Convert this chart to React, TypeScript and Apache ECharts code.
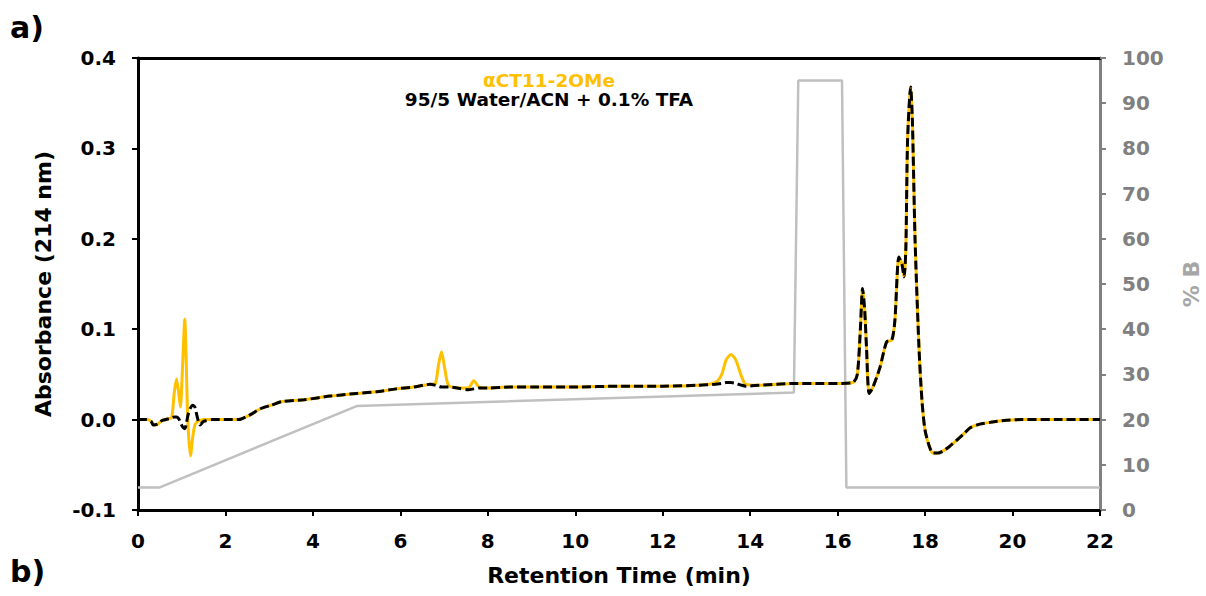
import React, { useEffect, useRef } from "react";
import * as echarts from "echarts";

const timeMin = [
  0, 0.2, 0.3, 0.35, 0.45, 0.55, 0.7, 0.77, 0.83, 0.88, 0.93, 0.97, 1.02, 1.07, 1.1, 1.13, 1.16, 1.2, 1.25, 1.3,
  1.36, 1.42, 1.5, 1.7, 2.0, 2.3, 2.55, 2.8, 3.05, 3.3, 3.8, 4.4, 5.0, 5.5, 5.9, 6.3, 6.68, 6.8, 6.87, 6.94,
  7.01, 7.1, 7.3, 7.55, 7.68, 7.8, 8.0, 8.5, 9.0, 10, 11, 12, 12.8, 13.2, 13.35, 13.45, 13.56, 13.67, 13.8, 13.9,
  14.2, 14.6, 15, 15.5, 16.0, 16.35, 16.45, 16.52, 16.57, 16.62, 16.66, 16.72, 16.8, 16.97, 17.12, 17.24, 17.31, 17.4, 17.47, 17.52,
  17.56, 17.6, 17.67, 17.71, 17.77, 17.86, 17.93, 18.0, 18.1, 18.18, 18.3, 18.4, 18.55, 18.72, 18.9, 19.03, 19.25, 19.5, 19.8, 20.2,
  21, 22,
];

const blankAbs = [
  0.0, 0.0, -0.002, -0.006, -0.005, -0.001, 0.001, 0.002, 0.003, 0.003, 0.001, -0.003, -0.008, -0.01, -0.006, 0.002, 0.008, 0.013, 0.016, 0.014,
  0.002, -0.006, -0.002, 0.0, 0.0, 0.0, 0.005, 0.012, 0.016, 0.02, 0.022, 0.026, 0.029, 0.031, 0.034, 0.036, 0.039, 0.038, 0.037, 0.036,
  0.036, 0.036, 0.035, 0.033, 0.034, 0.035, 0.035, 0.036, 0.036, 0.036, 0.037, 0.037, 0.038, 0.039, 0.04, 0.041, 0.041, 0.04, 0.038, 0.037,
  0.038, 0.039, 0.04, 0.04, 0.04, 0.041, 0.05, 0.1, 0.145, 0.12, 0.08, 0.029, 0.035, 0.058, 0.086, 0.088, 0.11, 0.18, 0.172, 0.158,
  0.19, 0.31, 0.368, 0.33, 0.2, 0.08, 0.02, -0.012, -0.03, -0.037, -0.037, -0.035, -0.03, -0.023, -0.015, -0.009, -0.005, -0.003, -0.001, 0.0,
  0.0, 0.0,
];

const sampleAbs = [
  0.0, 0.0, -0.002, -0.006, -0.005, -0.001, 0.001, 0.002, 0.03, 0.045, 0.03, 0.014, 0.06, 0.111, 0.07, 0.01, -0.02, -0.04, -0.02, -0.006,
  -0.002, -0.001, 0.0, 0.0, 0.0, 0.0, 0.005, 0.012, 0.016, 0.02, 0.022, 0.026, 0.029, 0.031, 0.034, 0.036, 0.039, 0.04, 0.06, 0.075,
  0.058, 0.038, 0.035, 0.035, 0.043, 0.036, 0.035, 0.036, 0.036, 0.036, 0.037, 0.037, 0.038, 0.041, 0.05, 0.066, 0.072, 0.066, 0.048, 0.039,
  0.038, 0.039, 0.04, 0.04, 0.04, 0.041, 0.05, 0.1, 0.145, 0.12, 0.08, 0.029, 0.035, 0.058, 0.086, 0.088, 0.11, 0.18, 0.172, 0.158,
  0.19, 0.31, 0.368, 0.33, 0.2, 0.08, 0.02, -0.012, -0.03, -0.037, -0.037, -0.035, -0.03, -0.023, -0.015, -0.009, -0.005, -0.003, -0.001, 0.0,
  0.0, 0.0,
];

const gradTime = [0, 0.5, 5.0, 15.0, 15.1, 16.1, 16.2, 22];
const gradB = [5, 5, 23, 26, 95, 95, 5, 5];

const sampleName = "αCT11-2OMe";
const conditionText = "95/5 Water/ACN + 0.1% TFA";

const FONT = "DejaVu Sans";

export default function App() {
  const ref = useRef<HTMLDivElement>(null);
  useEffect(() => {
    if (!ref.current) return;
    const chart = echarts.init(ref.current, undefined, { renderer: "svg" });
    const pair = (xs: number[], ys: number[]) => xs.map((x, i) => [x, ys[i]]);
    chart.setOption({
      animation: false,
      textStyle: { fontFamily: FONT },
      grid: { left: 138, right: 106, top: 58, bottom: 86, containLabel: false, outerBoundsMode: "none" },
      xAxis: [
        {
          type: "value",
          min: 0,
          max: 22,
          interval: 2,
          name: "Retention Time (min)",
          nameLocation: "middle",
          nameGap: 54,
          nameTextStyle: { fontFamily: FONT, fontWeight: "bold", fontSize: 22, color: "#000" },
          axisLine: { onZero: false, lineStyle: { color: "#000", width: 3 } },
          axisTick: { show: true, inside: false, length: 6, lineStyle: { color: "#000", width: 2 } },
          axisLabel: { margin: 21, fontFamily: FONT, fontWeight: "bold", fontSize: 20, color: "#000" },
          splitLine: { show: false },
        },
        {
          type: "value",
          position: "top",
          min: 0,
          max: 22,
          axisLine: { onZero: false, lineStyle: { color: "#000", width: 3 } },
          axisTick: { show: false },
          axisLabel: { show: false },
          splitLine: { show: false },
        },
      ],
      yAxis: [
        {
          type: "value",
          min: -0.1,
          max: 0.4,
          interval: 0.1,
          name: "Absorbance (214 nm)",
          nameLocation: "middle",
          nameRotate: 90,
          nameGap: 84,
          nameTextStyle: { fontFamily: FONT, fontWeight: "bold", fontSize: 22, color: "#000" },
          axisLine: { show: true, onZero: false, lineStyle: { color: "#000", width: 3 } },
          axisTick: { show: true, inside: false, length: 6, lineStyle: { color: "#000", width: 2 } },
          axisLabel: {
            margin: 22,
            fontFamily: FONT,
            fontWeight: "bold",
            fontSize: 20,
            color: "#000",
            formatter: (v: number) => v.toFixed(1),
          },
          splitLine: { show: false },
        },
        {
          type: "value",
          position: "right",
          min: 0,
          max: 100,
          interval: 10,
          name: "% B",
          nameLocation: "middle",
          nameRotate: 90,
          nameGap: 80,
          nameTextStyle: { fontFamily: FONT, fontWeight: "bold", fontSize: 22, color: "#a6a6a6" },
          axisLine: { show: true, onZero: false, lineStyle: { color: "#808080", width: 3 } },
          axisTick: { show: true, inside: false, length: 6, lineStyle: { color: "#808080", width: 2 } },
          axisLabel: { margin: 22, fontFamily: FONT, fontWeight: "bold", fontSize: 20, color: "#808080" },
          splitLine: { show: false },
        },
      ],
      series: [
        {
          type: "line",
          name: "%B",
          yAxisIndex: 1,
          data: pair(gradTime, gradB),
          showSymbol: false,
          lineStyle: { color: "#c0c0c0", width: 2.5 },
          z: 1,
        },
        {
          type: "line",
          name: sampleName,
          data: pair(timeMin, sampleAbs),
          showSymbol: false,
          smooth: 0.25,
          lineStyle: { color: "#FFC000", width: 3 },
          z: 2,
        },
        {
          type: "line",
          name: "blank",
          data: pair(timeMin, blankAbs),
          showSymbol: false,
          smooth: 0.25,
          lineStyle: { color: "#000", width: 3, type: [9, 4] },
          z: 3,
        },
      ],
      graphic: [
        {
          type: "text",
          left: 10,
          top: 12,
          style: { text: "a)", fontFamily: FONT, fontWeight: "bold", fontSize: 30, fill: "#000" },
        },
        {
          type: "text",
          left: 10,
          top: 556,
          style: { text: "b)", fontFamily: FONT, fontWeight: "bold", fontSize: 30, fill: "#000" },
        },
        {
          type: "text",
          x: 549,
          y: 80,
          style: {
            text: sampleName,
            fontFamily: FONT,
            fontWeight: "bold",
            fontSize: 18.5,
            fill: "#FFC000",
            align: "center",
            verticalAlign: "middle",
          },
        },
        {
          type: "text",
          x: 549,
          y: 99,
          style: {
            text: conditionText,
            fontFamily: FONT,
            fontWeight: "bold",
            fontSize: 18.5,
            fill: "#000",
            align: "center",
            verticalAlign: "middle",
          },
        },
      ],
    });
    return () => chart.dispose();
  }, []);
  return <div ref={ref} style={{ width: 1206, height: 596, position: "absolute", left: 0, top: 0 }} />;
}
